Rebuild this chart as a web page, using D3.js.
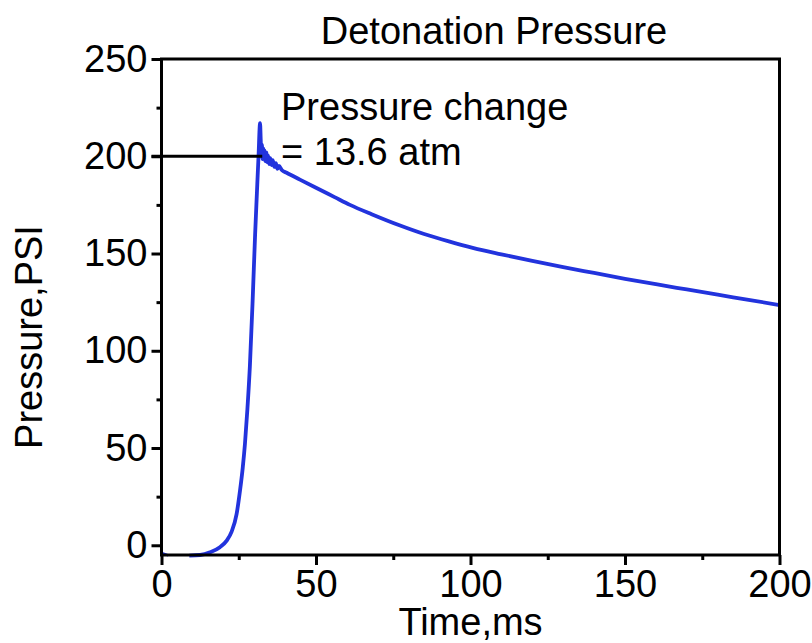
<!DOCTYPE html>
<html>
<head>
<meta charset="utf-8">
<script src="https://cdn.jsdelivr.net/npm/d3@7/dist/d3.min.js"></script>
<style>
  html, body { margin: 0; padding: 0; background: #fff; }
  svg text { font-family: "Liberation Sans", Arial, sans-serif; fill: #000; }
</style>
</head>
<body>
<svg id="chart" width="812" height="643"></svg>
<script>
// ---- data ----
const titleText = "Detonation Pressure";
const xLabel = "Time,ms";
const yLabel = "Pressure,PSI";
const annotationLines = ["Pressure change", "= 13.6 atm"];

const xMajorTicks = [0, 50, 100, 150, 200];
const xMinorTicks = [25, 75, 125, 175];
const yMajorTicks = [0, 50, 100, 150, 200, 250];
const yMinorTicks = [25, 75, 125, 175, 225];

// short trace segment at the start of the record
const preTime     = [0, 2.2];
const prePressure = [-4.0, -5.2];

// main pressure trace (ms, PSI)
const time = [
  9.0, 12.5, 15.7, 18.9, 21.1, 22.7, 24.3, 25.4, 26.3, 27.0, 27.8, 28.6, 29.5, 30.3,
  30.9, 31.4, 31.9, 32.1, 32.3, 32.5, 32.7, 32.9, 33.1, 33.3, 33.6, 33.9,
  34.2, 34.5, 34.8, 35.2, 35.6, 36.0, 36.5, 37.0, 37.5, 38.0, 39.0, 40.5,
  44.8, 50, 56, 61, 68, 77, 85, 93, 101, 110, 120,
  130, 140, 150, 160, 170, 180, 190, 200
];
const pressure = [
  -5.3, -5.0, -3.6, -1.0, 2.4, 7.0, 16.0, 28.0, 40.0, 52.0, 70.0, 92.0, 126.0, 160.0,
  182.0, 200.0, 217.0, 209.0, 201.0, 206.0, 198.5, 204.0, 199.0, 203.0, 197.5, 202.0,
  197.0, 200.5, 196.0, 199.0, 195.5, 198.0, 194.5, 196.5, 193.5, 195.0, 192.8, 191.5,
  188.0, 183.8, 179.0, 175.0, 170.2, 164.5, 160.0, 156.2, 152.8, 149.6, 146.2,
  143.0, 140.0, 137.0, 134.2, 131.5, 128.8, 126.2, 123.5
];

// horizontal reference line at the 200 PSI level
const refLevel = 200;
const refStart = 0;
const refEnd = 32.6;

// ---- layout ----
const svg = d3.select("#chart");
const W = 812, H = 643;
const margin = { left: 161.5, right: W - 779.5, top: 59, bottom: H - 555 };
const x = d3.scaleLinear().domain([0, 200]).range([margin.left, W - margin.right]);
const y = d3.scaleLinear().domain([-5, 250]).range([H - margin.bottom, margin.top]);

const fontSize = 38;
const lineColor = "#2233dd";

// traces
const line = d3.line().x(d => x(d[0])).y(d => y(d[1])).curve(d3.curveMonotoneX);
const preData = preTime.map((t, i) => [t, prePressure[i]]);
const mainData = time.map((t, i) => [t, pressure[i]]);

svg.append("path").datum(preData)
  .attr("d", d3.line().x(d => x(d[0])).y(d => y(d[1])))
  .attr("fill", "none").attr("stroke", lineColor).attr("stroke-width", 2.5);

svg.append("path").datum(mainData)
  .attr("d", line)
  .attr("fill", "none").attr("stroke", lineColor)
  .attr("stroke-width", 3.8).attr("stroke-linejoin", "round");

// reference line
svg.append("line")
  .attr("x1", x(refStart) - 10).attr("x2", x(refEnd))
  .attr("y1", y(refLevel)).attr("y2", y(refLevel))
  .attr("stroke", "#000").attr("stroke-width", 3);

// axes
const gx = svg.append("g").attr("transform", `translate(0,${y.range()[0]})`)
  .call(d3.axisBottom(x).tickValues(xMajorTicks).tickSize(10).tickSizeOuter(0).tickPadding(5).tickFormat(d3.format("d")));
const gxm = svg.append("g").attr("transform", `translate(0,${y.range()[0]})`)
  .call(d3.axisBottom(x).tickValues(xMinorTicks).tickSize(5).tickSizeOuter(0).tickFormat(""));
const gy = svg.append("g").attr("transform", `translate(${x.range()[0]},0)`)
  .call(d3.axisLeft(y).tickValues(yMajorTicks).tickSize(10).tickSizeOuter(0).tickPadding(4).tickFormat(d3.format("d")));
const gym = svg.append("g").attr("transform", `translate(${x.range()[0]},0)`)
  .call(d3.axisLeft(y).tickValues(yMinorTicks).tickSize(5).tickSizeOuter(0).tickFormat(""));

[gx, gxm, gy, gym].forEach(g => {
  g.select(".domain").remove();
  g.selectAll(".tick line").attr("stroke", "#000").attr("stroke-width", 3);
  g.selectAll(".tick text").attr("font-size", fontSize)
    .attr("font-family", "'Liberation Sans', Arial, sans-serif").attr("fill", "#000");
});

// frame
svg.append("rect")
  .attr("x", x.range()[0]).attr("y", y.range()[1])
  .attr("width", x.range()[1] - x.range()[0])
  .attr("height", y.range()[0] - y.range()[1])
  .attr("fill", "none").attr("stroke", "#000").attr("stroke-width", 3);

// title and labels
svg.append("text").attr("x", 494).attr("y", 44)
  .attr("text-anchor", "middle").attr("font-size", fontSize).text(titleText);

svg.append("text").attr("x", (x.range()[0] + x.range()[1]) / 2).attr("y", 635)
  .attr("text-anchor", "middle").attr("font-size", fontSize).text(xLabel);

svg.append("text").attr("transform", "translate(42,337) rotate(-90)")
  .attr("text-anchor", "middle").attr("font-size", fontSize).text(yLabel);

// annotation
svg.append("text").attr("x", 281).attr("y", 120).attr("font-size", fontSize).text(annotationLines[0]);
svg.append("text").attr("x", 281).attr("y", 165).attr("font-size", fontSize).text(annotationLines[1]);
</script>
</body>
</html>
